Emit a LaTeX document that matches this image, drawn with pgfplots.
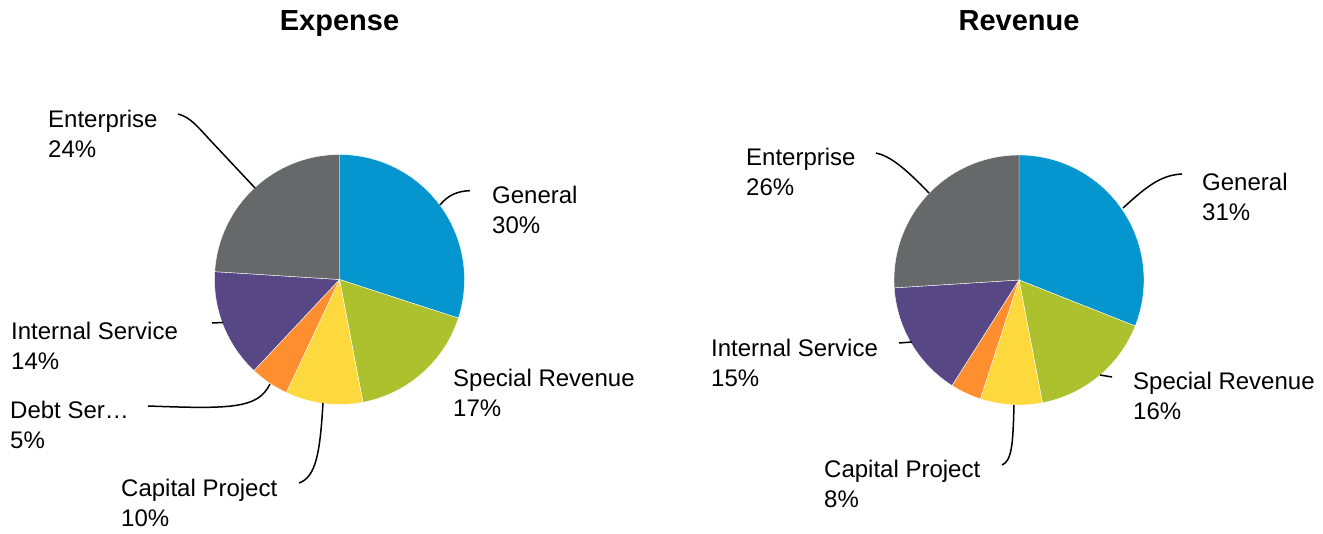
\documentclass[border=0pt]{standalone}
\usepackage{pgfplots}
\usepackage{pgfplotstable}
\pgfplotsset{compat=1.18}
\usepackage{fontspec}
\setmainfont{Liberation Sans}

\definecolor{cgen}{HTML}{0596CF}
\definecolor{cspec}{HTML}{ADC12F}
\definecolor{ccap}{HTML}{FED93E}
\definecolor{cdebt}{HTML}{FE8E2E}
\definecolor{cint}{HTML}{574785}
\definecolor{cent}{HTML}{67686A}

% share of each fund, clockwise from 12 o'clock
\pgfplotstableread[col sep=comma]{
fund,value,color
General,30,cgen
Special Revenue,17,cspec
Capital Project,10,ccap
Debt Service,5,cdebt
Internal Service,14,cint
Enterprise,24,cent
}\expense

\pgfplotstableread[col sep=comma]{
fund,value,color
General,31,cgen
Special Revenue,16,cspec
Capital Project,8,ccap
Debt Service,4,cdebt
Internal Service,15,cint
Enterprise,26,cent
}\revenue

% #1 table, #2 #3 centre (axis units), slices from the value column
\newcommand\pie[3]{%
  \pgfplotstablegetrowsof{#1}%
  \pgfmathtruncatemacro\lastrow{\pgfplotsretval-1}%
  \def\cum{0}%
  \pgfplotsforeachungrouped \i in {0,...,\lastrow}{%
    \pgfplotstablegetelem{\i}{value}\of{#1}\let\val\pgfplotsretval
    \pgfplotstablegetelem{\i}{color}\of{#1}\let\col\pgfplotsretval
    \pgfmathsetmacro\sa{90-3.6*\cum}%
    \pgfmathsetmacro\cum{\cum+\val}%
    \pgfmathsetmacro\ea{90-3.6*\cum}%
    \edef\temp{\noexpand\fill[\col, draw=white, line width=0.4pt]
      (axis cs:#2,#3) -- ++(\sa:125pt)
      arc[start angle=\sa, end angle=\ea, radius=125pt] -- cycle;}%
    \temp
  }%
}

\tikzset{lbl/.style={anchor=base west, inner sep=0pt,
  font=\fontsize{24}{29}\selectfont},
  lead/.style={black, line width=1.5pt},
  ttl/.style={anchor=base, inner sep=0pt, font=\fontsize{29}{33}\selectfont\bfseries}}

% #1 x, #2 baseline of first line, #3 second baseline, #4 name, #5 share
\newcommand\lbl[5]{%
  \node[lbl] at (axis cs:#1,#2) {#4};
  \node[lbl] at (axis cs:#1,#3) {#5};}

\begin{document}
\begin{tikzpicture}
\begin{axis}[width=1323pt, height=533pt, scale only axis,
  xmin=0, xmax=1323, ymin=0, ymax=533, hide axis, clip=false]
\path (axis cs:0,0) rectangle (axis cs:1323,533);

\pie{\expense}{339.5}{253.5}
\pie{\revenue}{1019}{253}

\node[ttl] at (axis cs:339.5,502) {Expense};
\node[ttl] at (axis cs:1019,502) {Revenue};

% expense labels
\lbl{48}{405}{375}{Enterprise}{24\%}
\lbl{492}{329}{299}{General}{30\%}
\lbl{453}{146}{116}{Special Revenue}{17\%}
\lbl{11}{193}{163}{Internal Service}{14\%}
\lbl{10}{114}{84}{Debt Ser…}{5\%}
\lbl{121}{36}{6}{Capital Project}{10\%}

\draw[lead] (axis cs:178,419) .. controls (axis cs:190,416) and (axis cs:197,407) .. (axis cs:210,393) -- (axis cs:255,345);
\draw[lead] (axis cs:470,342.3) .. controls (axis cs:458,342) and (axis cs:448,338) .. (axis cs:440,328);
\draw[lead] (axis cs:212,210) -- (axis cs:223,210.5);
\draw[lead] (axis cs:148,127) .. controls (axis cs:230,124) and (axis cs:258,124) .. (axis cs:270,149);
\draw[lead] (axis cs:299,50) .. controls (axis cs:316,56) and (axis cs:320,80) .. (axis cs:323,130);

% revenue labels
\lbl{746}{367}{337}{Enterprise}{26\%}
\lbl{1202}{342}{312}{General}{31\%}
\lbl{1133}{143}{113}{Special Revenue}{16\%}
\lbl{711}{176}{146}{Internal Service}{15\%}
\lbl{824}{55}{25}{Capital Project}{8\%}

\draw[lead] (axis cs:876,380) .. controls (axis cs:890,377) and (axis cs:905,365) .. (axis cs:929,340);
\draw[lead] (axis cs:1182,359) .. controls (axis cs:1160,358) and (axis cs:1145,345) .. (axis cs:1123,325);
\draw[lead] (axis cs:1100,158) -- (axis cs:1112,156);
\draw[lead] (axis cs:1002,68) .. controls (axis cs:1012,72) and (axis cs:1013,90) .. (axis cs:1014,128);
\draw[lead] (axis cs:899,190) -- (axis cs:912,191);
\end{axis}
\end{tikzpicture}
\end{document}
